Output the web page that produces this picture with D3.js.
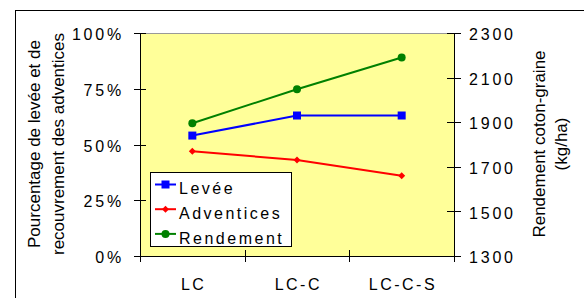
<!DOCTYPE html>
<html>
<head>
<meta charset="utf-8">
<script src="https://cdn.jsdelivr.net/npm/d3@7"></script>
<style>
  body { margin: 0; background: #fff; }
  svg text { font-family: "Liberation Sans", Arial, sans-serif; fill: #000; }
</style>
</head>
<body>
<svg id="chart" width="584" height="298"></svg>
<script>
var categories = ["LC", "LC-C", "LC-C-S"];
var levee = [54, 63, 63];
var adventices = [47, 43, 36];
var rendement = [1895, 2048, 2190];
var leftTicks = [0, 25, 50, 75, 100];
var rightTicks = [1300, 1500, 1700, 1900, 2100, 2300];

var svg = d3.select("#chart");
var plotLeft = 140, plotRight = 454, plotTop = 33, plotBottom = 256;

// outer frame
svg.append("rect")
    .attr("x", 15.5).attr("y", 10.5)
    .attr("width", 600).attr("height", 300)
    .attr("fill", "#fff").attr("stroke", "#000").attr("stroke-width", 1);

var x = d3.scalePoint().domain(categories).range([plotLeft, plotRight]).padding(0.5);
var yL = d3.scaleLinear().domain([0, 100]).range([plotBottom, plotTop]);
var yR = d3.scaleLinear().domain([1300, 2300]).range([plotBottom, plotTop]);

// plot area
svg.append("rect")
    .attr("x", plotLeft).attr("y", plotTop)
    .attr("width", plotRight - plotLeft).attr("height", plotBottom - plotTop)
    .attr("fill", "#ffff99");
svg.append("line")
    .attr("x1", plotLeft).attr("x2", plotRight).attr("y1", plotTop + 0.5).attr("y2", plotTop + 0.5)
    .attr("stroke", "#999").attr("stroke-width", 1);

// left axis
var gL = svg.append("g");
gL.append("line").attr("x1", plotLeft + 0.5).attr("x2", plotLeft + 0.5)
    .attr("y1", plotTop).attr("y2", plotBottom).attr("stroke", "#000");
gL.selectAll("line.t").data(leftTicks).enter().append("line")
    .attr("class", "t")
    .attr("x1", plotLeft - 6).attr("x2", plotLeft + 6)
    .attr("y1", d => Math.round(yL(d)) + 0.5).attr("y2", d => Math.round(yL(d)) + 0.5)
    .attr("stroke", "#000");
gL.selectAll("text").data(leftTicks).enter().append("text")
    .attr("x", 124).attr("y", d => yL(d))
    .attr("dy", "0.45em").attr("text-anchor", "end")
    .attr("font-size", 16).attr("letter-spacing", 2.8)
    .text(d => d + "%");

// right axis
var gR = svg.append("g");
gR.append("line").attr("x1", plotRight + 0.5).attr("x2", plotRight + 0.5)
    .attr("y1", plotTop).attr("y2", plotBottom).attr("stroke", "#000");
gR.selectAll("line.t").data(rightTicks).enter().append("line")
    .attr("class", "t")
    .attr("x1", plotRight - 7).attr("x2", plotRight + 7)
    .attr("y1", d => Math.round(yR(d)) + 0.5).attr("y2", d => Math.round(yR(d)) + 0.5)
    .attr("stroke", "#000");
gR.selectAll("text").data(rightTicks).enter().append("text")
    .attr("x", 469).attr("y", d => yR(d))
    .attr("dy", "0.45em").attr("text-anchor", "start")
    .attr("font-size", 16).attr("letter-spacing", 2.8)
    .text(d => d);

// bottom axis
var step = x.step();
var xTicks = [plotLeft, plotLeft + step, plotLeft + 2 * step, plotRight];
svg.append("line").attr("x1", plotLeft).attr("x2", plotRight)
    .attr("y1", plotBottom + 0.5).attr("y2", plotBottom + 0.5).attr("stroke", "#000");
svg.selectAll("line.xt").data(xTicks).enter().append("line")
    .attr("class", "xt")
    .attr("x1", d => Math.round(d) + 0.5).attr("x2", d => Math.round(d) + 0.5)
    .attr("y1", plotBottom - 6).attr("y2", plotBottom + 6)
    .attr("stroke", "#000");
svg.selectAll("text.xl").data(categories).enter().append("text")
    .attr("class", "xl")
    .attr("x", d => x(d) + 1.3).attr("y", 290)
    .attr("text-anchor", "middle")
    .attr("font-size", 16).attr("letter-spacing", 2.5)
    .text(d => d);

// axis titles (x = baseline position after rotation)
function vtitle(bx, cy, txt) {
  svg.append("text")
      .attr("transform", "translate(" + bx + "," + cy + ") rotate(-90)")
      .attr("text-anchor", "middle")
      .attr("font-size", 17)
      .text(txt);
}
vtitle(40, 144, "Pourcentage de levée et de");
vtitle(63.5, 144, "recouvrement des adventices");
vtitle(545, 144, "Rendement coton-graine");
vtitle(567, 144, "(kg/ha)");

// series
var series = [
  {name: "Levée", values: levee, y: yL, color: "#0000ff", marker: "square"},
  {name: "Adventices", values: adventices, y: yL, color: "#ff0000", marker: "diamond"},
  {name: "Rendement", values: rendement, y: yR, color: "#008000", marker: "circle"}
];

function drawMarker(g, type, color) {
  if (type == "square") {
    g.append("rect").attr("x", -4).attr("y", -4).attr("width", 8).attr("height", 8).attr("fill", color);
  } else if (type == "diamond") {
    g.append("path").attr("d", "M0,-3.5L3.5,0L0,3.5L-3.5,0Z").attr("fill", color);
  } else {
    g.append("circle").attr("r", 4).attr("fill", color);
  }
}

series.forEach(function(s) {
  var line = d3.line()
      .x((d, i) => x(categories[i]))
      .y(d => s.y(d));
  svg.append("path")
      .datum(s.values)
      .attr("d", line)
      .attr("fill", "none")
      .attr("stroke", s.color)
      .attr("stroke-width", 2);
  s.values.forEach(function(v, i) {
    var g = svg.append("g")
        .attr("transform", "translate(" + x(categories[i]) + "," + s.y(v) + ")");
    drawMarker(g, s.marker, s.color);
  });
});

// legend
var lg = svg.append("g");
lg.append("rect")
    .attr("x", 150.5).attr("y", 172.5)
    .attr("width", 141).attr("height", 74)
    .attr("fill", "#fff").attr("stroke", "#000");
series.forEach(function(s, i) {
  var yy = 184.5 + i * 24.7;
  lg.append("line")
      .attr("x1", 155).attr("x2", 176).attr("y1", yy).attr("y2", yy)
      .attr("stroke", s.color).attr("stroke-width", 2);
  var g = lg.append("g").attr("transform", "translate(165.5," + yy + ")");
  drawMarker(g, s.marker, s.color);
  lg.append("text")
      .attr("x", 179).attr("y", yy + 9.8)
      .attr("font-size", 16).attr("letter-spacing", 2.5)
      .text(s.name);
});
</script>
</body>
</html>
